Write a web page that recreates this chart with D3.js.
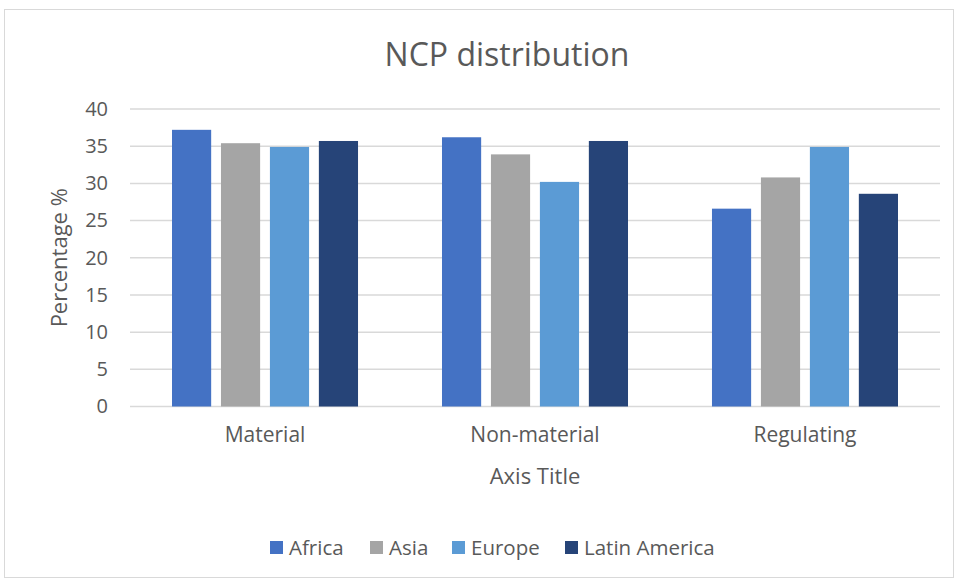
<!DOCTYPE html>
<html>
<head>
<meta charset="utf-8">
<script src="https://cdn.jsdelivr.net/npm/d3@7"></script>
<style>
  html, body { margin: 0; padding: 0; background: #fff; }
  svg { display: block; font-family: "Open Sans", "Noto Sans", sans-serif; }
</style>
</head>
<body>
<svg id="chart" width="956" height="579"></svg>
<script>
// NCP distribution by region (percentage)
const categories = ["Material", "Non-material", "Regulating"];
const seriesNames = ["Africa", "Asia", "Europe", "Latin America"];
const africa = [37.2, 36.2, 26.6];
const asia = [35.4, 33.9, 30.8];
const europe = [34.9, 30.2, 34.9];
const latinAmerica = [35.7, 35.7, 28.6];
const yTicks = [0, 5, 10, 15, 20, 25, 30, 35, 40];
const colors = ["#4472C4", "#A5A5A5", "#5B9BD5", "#264478"];

const seriesValues = [africa, asia, europe, latinAmerica];
const rows = categories.map((c, i) => ({
  category: c,
  values: seriesNames.map((s, j) => ({ series: s, value: seriesValues[j][i] }))
}));

const svg = d3.select("#chart");
const W = 956, H = 579;
const plot = { left: 130, right: 940, top: 109, bottom: 406.5 };
const textColor = "#595959";
const gridColor = "#D9D9D9";
const fontFamily = "'Open Sans', 'Noto Sans', sans-serif";

// chart frame
svg.append("rect")
  .attr("x", 4.5).attr("y", 9.5)
  .attr("width", W - 7).attr("height", H - 11)
  .attr("fill", "#fff").attr("stroke", "#D9D9D9").attr("stroke-width", 1);

const y = d3.scaleLinear().domain([0, 40]).range([plot.bottom, plot.top]);
const x0 = d3.scaleBand().domain(categories)
  .range([plot.left, plot.right]).paddingInner(0.311).paddingOuter(0.1556);
const x1 = d3.scaleBand().domain(seriesNames)
  .range([0, x0.bandwidth()]).paddingInner(0.2);
const color = d3.scaleOrdinal().domain(seriesNames).range(colors);

// gridlines
svg.append("g")
  .selectAll("line").data(yTicks).join("line")
  .attr("x1", plot.left).attr("x2", plot.right)
  .attr("y1", d => y(d)).attr("y2", d => y(d))
  .attr("stroke", gridColor).attr("stroke-width", 1.5);

// y axis tick labels
const yAxis = d3.axisLeft(y).tickValues(yTicks).tickSize(0).tickPadding(0);
const gy = svg.append("g").attr("transform", `translate(${plot.left - 22},0)`).call(yAxis);
gy.select(".domain").remove();
gy.selectAll("text")
  .attr("fill", textColor).attr("font-size", 20)
  .attr("font-family", fontFamily);

// bars
svg.append("g")
  .selectAll("g").data(rows).join("g")
  .attr("transform", d => `translate(${x0(d.category)},0)`)
  .selectAll("rect").data(d => d.values).join("rect")
  .attr("x", d => x1(d.series))
  .attr("width", x1.bandwidth())
  .attr("y", d => y(d.value))
  .attr("height", d => y(0) - y(d.value))
  .attr("fill", d => color(d.series));

// category axis labels
const xAxis = d3.axisBottom(x0).tickSize(0).tickPadding(0);
const gx = svg.append("g").attr("transform", `translate(0,${plot.bottom + 21})`).call(xAxis);
gx.select(".domain").remove();
gx.selectAll("text")
  .attr("fill", textColor).attr("font-size", 21)
  .attr("font-family", fontFamily);

// title
svg.append("text")
  .attr("x", 507).attr("y", 66)
  .attr("text-anchor", "middle")
  .attr("fill", textColor).attr("font-size", 32)
  .text("NCP distribution");

// axis titles
svg.append("text")
  .attr("x", 535).attr("y", 484)
  .attr("text-anchor", "middle")
  .attr("fill", textColor).attr("font-size", 22)
  .text("Axis Title");

svg.append("text")
  .attr("transform", `translate(67,${(plot.top + plot.bottom) / 2}) rotate(-90)`)
  .attr("text-anchor", "middle")
  .attr("fill", textColor).attr("font-size", 22)
  .text("Percentage %");

// legend
const legendX = [270, 370, 452, 565];
const legend = svg.append("g")
  .selectAll("g").data(seriesNames).join("g")
  .attr("transform", (d, i) => `translate(${legendX[i]},541)`);
legend.append("rect")
  .attr("width", 13).attr("height", 13)
  .attr("fill", d => color(d));
legend.append("text")
  .attr("x", 19).attr("y", 14)
  .attr("fill", textColor).attr("font-size", 20.5)
  .text(d => d);
</script>
</body>
</html>
